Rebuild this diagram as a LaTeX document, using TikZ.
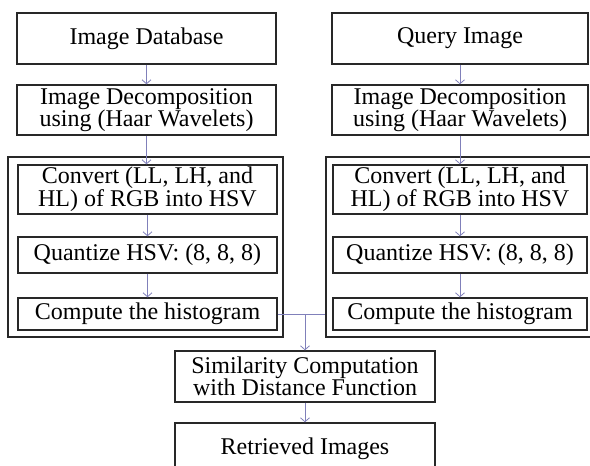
\documentclass[tikz,border=0pt]{standalone}
\usepackage{fontspec}
\setmainfont{Liberation Serif}
\usetikzlibrary{arrows.meta}
\definecolor{linkblue}{RGB}{128,128,186}
\definecolor{boxgray}{RGB}{40,40,40}

\begin{document}
\begin{tikzpicture}[x=1pt,y=-1pt,
  box/.style={draw=boxgray,line width=1.4pt,align=center,inner sep=0pt,
    font=\fontsize{24}{22}\selectfont},
  frame/.style={draw=boxgray,line width=1.4pt,inner sep=0pt},
  link/.style={draw=linkblue,line width=0.8pt},
  arr/.style={link,-{Straight Barb[length=4pt,width=9pt]}}]
  \useasboundingbox (0,0) rectangle (590,466);
  % outer frames
  \node[frame,minimum width=275,minimum height=180] (lframe) at (145.5,247) {};
  \node[frame,minimum width=266,minimum height=180] (rframe) at (459,247) {};
  % left column
  \node[box,minimum width=259,minimum height=51] (ldb) at (146.5,38.5) {Image Database};
  \node[box,minimum width=259,minimum height=50] (ldec) at (146.5,110) {Image Decomposition\\using (Haar Wavelets)};
  \node[box,minimum width=259,minimum height=49] (lconv) at (147.5,189.5) {Convert (LL, LH, and\\HL) of RGB into HSV};
  \node[box,minimum width=259,minimum height=36] (lquant) at (147.5,255) {Quantize HSV: (8, 8, 8)};
  \node[box,minimum width=259,minimum height=32] (lhist) at (147.5,314) {Compute the histogram};
  % right column
  \node[box,minimum width=256,minimum height=51] (rquery) at (460,38.5) {Query Image};
  \node[box,minimum width=256,minimum height=50] (rdec) at (460,110) {Image Decomposition\\using (Haar Wavelets)};
  \node[box,minimum width=254,minimum height=49] (rconv) at (460,189.5) {Convert (LL, LH, and\\HL) of RGB into HSV};
  \node[box,minimum width=254,minimum height=36] (rquant) at (460,255) {Quantize HSV: (8, 8, 8)};
  \node[box,minimum width=254,minimum height=32] (rhist) at (460,314) {Compute the histogram};
  % bottom
  \node[box,minimum width=260,minimum height=51] (sim) at (305,376.5) {Similarity Computation\\with Distance Function};
  \node[box,minimum width=260,minimum height=51] (ret) at (305,448.5) {Retrieved Images};
  % connectors
  \draw[arr] (ldb) -- (ldec);
  \draw[arr] (ldec.south) -- (ldec.south |- lconv.north);
  \draw[arr] (lconv) -- (lquant);
  \draw[arr] (lquant) -- (lhist);
  \draw[arr] (rquery.south) -- (rquery.south |- rdec.north);
  \draw[arr] (rdec.south) -- (rdec.south |- rconv.north);
  \draw[arr] (rconv) -- (rquant);
  \draw[arr] (rquant) -- (rhist);
  \draw[link] (lhist.east) -- (rframe.west |- lhist.east);
  \coordinate (join) at (sim.north |- lhist.east);
  \draw[arr] (join) -- (sim);
  \draw[arr] (sim) -- (ret);
\end{tikzpicture}
\end{document}
